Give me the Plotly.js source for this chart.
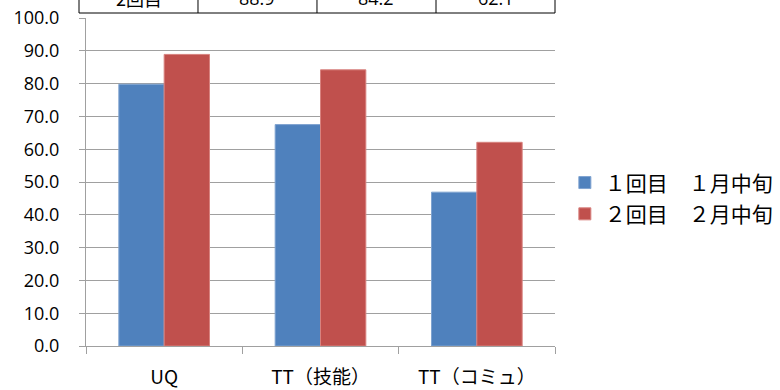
<!DOCTYPE html>
<html>
<head>
<meta charset="utf-8">
<script src="https://cdn.plot.ly/plotly-3.0.1.min.js"></script>
<style>html,body{margin:0;padding:0;background:#fff;}#chart{width:780px;height:390px;}</style>
</head>
<body>
<div id="chart"></div>
<script>
var categories = ['UQ', 'TT（技能）', 'TT（コミュ）'];
var seriesNames = ['１回目　１月中旬', '２回目　２月中旬'];
var round1 = [79.8, 67.5, 46.9];
var round2 = [88.9, 84.2, 62.1];
var tableRowLabel = '2回目';
var yTicks = [0, 10, 20, 30, 40, 50, 60, 70, 80, 90, 100];

var font = '"Noto Sans CJK JP", "Noto Sans", sans-serif';
var numFont = '"Open Sans", "Noto Sans", sans-serif';
var traces = [
  {type: 'bar', x: categories, y: round1, name: seriesNames[0], legendgroup: 'g1',
   marker: {color: '#4F81BD', line: {color: '#7FA3D0', width: 1}}},
  {type: 'bar', x: categories, y: round2, name: seriesNames[1], legendgroup: 'g2',
   marker: {color: '#C0504D', line: {color: '#D8827F', width: 1}}}
];

// table row above the plot (cut off at the top)
var colEdges = [-0.0149, 0.2388, 0.4925, 0.7463, 1.0];
var tableBottom = 1.0152;
var shapes = [{type: 'line', xref: 'paper', yref: 'paper', x0: colEdges[0], x1: colEdges[4], y0: tableBottom, y1: tableBottom, line: {color: '#000', width: 1}}];
colEdges.forEach(function (e) {
  shapes.push({type: 'line', xref: 'paper', yref: 'paper', x0: e, x1: e, y0: tableBottom, y1: 1.2, line: {color: '#000', width: 1}});
});
var cells = [tableRowLabel].concat(round2.map(function (v) { return v.toFixed(1); }));
var annotations = cells.map(function (t, i) {
  return {xref: 'paper', yref: 'paper', x: (colEdges[i] + colEdges[i + 1]) / 2, y: 1, yshift: 20,
          xanchor: 'center', yanchor: 'middle', showarrow: false, text: t,
          font: {family: i === 0 ? font : numFont, size: 18, color: '#000'}};
});

var layout = {
  width: 780, height: 390,
  margin: {l: 86, r: 225, t: 18, b: 44, autoexpand: false},
  paper_bgcolor: '#fff', plot_bgcolor: '#fff',
  font: {family: font, size: 18, color: '#000'},
  barmode: 'group', bargap: 0.42, bargroupgap: 0,
  showlegend: true,
  legend: {x: 1.021, y: 0.45, xanchor: 'left', yanchor: 'middle', font: {family: font, size: 21, color: '#000'}, tracegroupgap: 1, itemwidth: 30},
  xaxis: {type: 'category', showline: true, linecolor: '#a0a0a0', linewidth: 1,
          ticks: 'outside', tickson: 'boundaries', ticklen: 7, tickcolor: '#a0a0a0',
          ticklabelstandoff: 14, tickfont: {family: font, size: 19, color: '#000'}, showgrid: false},
  yaxis: {range: [0, 100], tickvals: yTicks, ticktext: yTicks.map(function (v) { return v.toFixed(1); }),
          showline: true, linecolor: '#a0a0a0', linewidth: 1, ticks: 'outside', ticklen: 6, tickcolor: '#a0a0a0',
          ticklabelstandoff: 16,
          showgrid: true, gridcolor: '#a0a0a0', gridwidth: 1, zeroline: false,
          tickfont: {family: numFont, size: 18, color: '#000'}},
  shapes: shapes,
  annotations: annotations
};
Plotly.newPlot('chart', traces, layout, {displayModeBar: false, staticPlot: true});
</script>
</body>
</html>
